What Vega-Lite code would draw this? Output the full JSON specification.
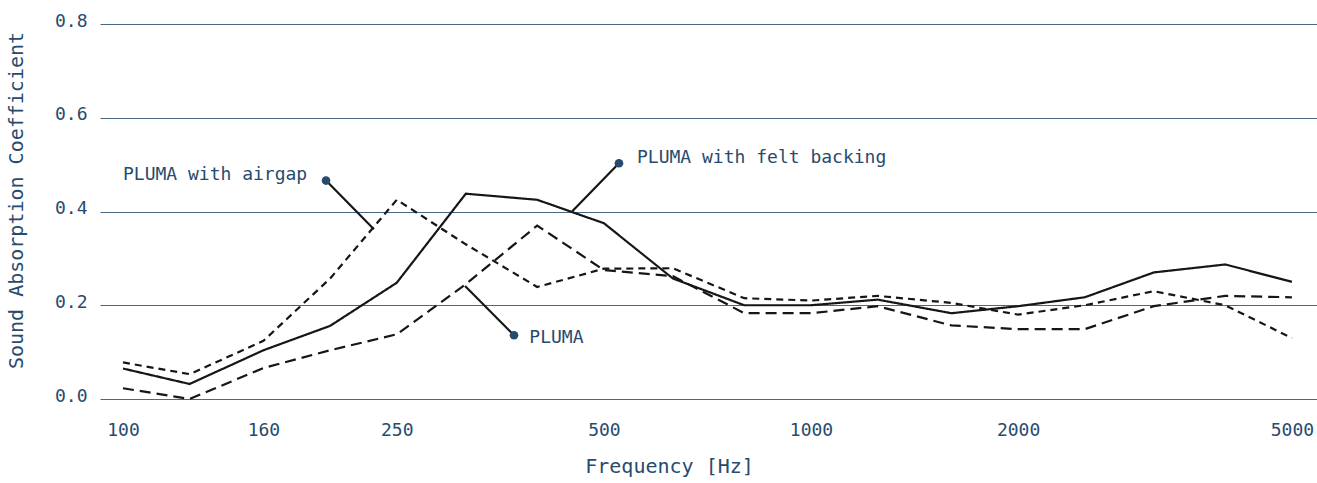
{
  "$schema": "https://vega.github.io/schema/vega-lite/v6.json",
  "width": 1217,
  "height": 375,
  "autosize": {"type": "none"},
  "padding": {"left": 100, "top": 24, "right": 0, "bottom": 84},
  "background": "white",
  "config": {
    "view": {"stroke": null},
    "font": "DejaVu Sans Mono",
    "axis": {"labelFont": "DejaVu Sans Mono", "titleFont": "DejaVu Sans Mono", "labelColor": "#274b6d", "titleColor": "#274b6d", "titleFontWeight": "normal"}
  },
  "datasets": {
    "curves": [
      {"freq": 100, "series": "felt", "value": 0.065},
      {"freq": 125, "series": "felt", "value": 0.032},
      {"freq": 160, "series": "felt", "value": 0.104},
      {"freq": 200, "series": "felt", "value": 0.156},
      {"freq": 250, "series": "felt", "value": 0.248},
      {"freq": 315, "series": "felt", "value": 0.438},
      {"freq": 400, "series": "felt", "value": 0.425},
      {"freq": 500, "series": "felt", "value": 0.375},
      {"freq": 630, "series": "felt", "value": 0.257},
      {"freq": 800, "series": "felt", "value": 0.2},
      {"freq": 1000, "series": "felt", "value": 0.2},
      {"freq": 1250, "series": "felt", "value": 0.212},
      {"freq": 1600, "series": "felt", "value": 0.183},
      {"freq": 2000, "series": "felt", "value": 0.198},
      {"freq": 2500, "series": "felt", "value": 0.217},
      {"freq": 3150, "series": "felt", "value": 0.27},
      {"freq": 4000, "series": "felt", "value": 0.287},
      {"freq": 5000, "series": "felt", "value": 0.25},
      {"freq": 100, "series": "airgap", "value": 0.078},
      {"freq": 125, "series": "airgap", "value": 0.053},
      {"freq": 160, "series": "airgap", "value": 0.124},
      {"freq": 200, "series": "airgap", "value": 0.257},
      {"freq": 250, "series": "airgap", "value": 0.425},
      {"freq": 315, "series": "airgap", "value": 0.33},
      {"freq": 400, "series": "airgap", "value": 0.239},
      {"freq": 500, "series": "airgap", "value": 0.278},
      {"freq": 630, "series": "airgap", "value": 0.279},
      {"freq": 800, "series": "airgap", "value": 0.215},
      {"freq": 1000, "series": "airgap", "value": 0.21},
      {"freq": 1250, "series": "airgap", "value": 0.22},
      {"freq": 1600, "series": "airgap", "value": 0.205},
      {"freq": 2000, "series": "airgap", "value": 0.18},
      {"freq": 2500, "series": "airgap", "value": 0.2},
      {"freq": 3150, "series": "airgap", "value": 0.23},
      {"freq": 4000, "series": "airgap", "value": 0.2},
      {"freq": 5000, "series": "airgap", "value": 0.13},
      {"freq": 100, "series": "pluma", "value": 0.023},
      {"freq": 125, "series": "pluma", "value": 0.0},
      {"freq": 160, "series": "pluma", "value": 0.066},
      {"freq": 200, "series": "pluma", "value": 0.104},
      {"freq": 250, "series": "pluma", "value": 0.138},
      {"freq": 315, "series": "pluma", "value": 0.245},
      {"freq": 400, "series": "pluma", "value": 0.37},
      {"freq": 500, "series": "pluma", "value": 0.275},
      {"freq": 630, "series": "pluma", "value": 0.262},
      {"freq": 800, "series": "pluma", "value": 0.183},
      {"freq": 1000, "series": "pluma", "value": 0.183},
      {"freq": 1250, "series": "pluma", "value": 0.198},
      {"freq": 1600, "series": "pluma", "value": 0.157},
      {"freq": 2000, "series": "pluma", "value": 0.149},
      {"freq": 2500, "series": "pluma", "value": 0.149},
      {"freq": 3150, "series": "pluma", "value": 0.198},
      {"freq": 4000, "series": "pluma", "value": 0.22},
      {"freq": 5000, "series": "pluma", "value": 0.217}
    ],
    "notes": [
      {"label": "PLUMA with airgap", "dotF": 197.3, "dotV": 0.466, "endF": 231.6, "endV": 0.362, "textF": 100, "textV": 0.477},
      {"label": "PLUMA with felt backing", "dotF": 525.9, "dotV": 0.503, "endF": 449.8, "endV": 0.4006, "textF": 558.6, "textV": 0.514},
      {"label": "PLUMA", "dotF": 370.1, "dotV": 0.136, "endF": 314.2, "endV": 0.241, "textF": 389.6, "textV": 0.13}
    ]
  },
  "layer": [
    {
      "data": {"name": "curves"},
      "mark": {"type": "line", "color": "#161616", "strokeWidth": 2.2},
      "encoding": {
        "x": {
          "field": "freq", "type": "quantitative",
          "scale": {"type": "log", "domain": [92.6, 5438], "nice": false},
          "axis": {"values": [100, 160, 250, 500, 1000, 2000, 5000], "format": "d", "grid": false, "domain": false, "ticks": false, "labelPadding": 22, "labelFontSize": 18, "title": "Frequency [Hz]", "titleFontSize": 20, "titleX": 569, "titleY": 67, "titleBaseline": "middle", "titleAlign": "center"}
        },
        "y": {
          "field": "value", "type": "quantitative",
          "scale": {"domain": [0, 0.8], "nice": false},
          "axis": {"values": [0, 0.2, 0.4, 0.6, 0.8], "format": ".1f", "grid": true, "gridColor": "#4a6886", "gridWidth": 1, "gridOpacity": 1, "domain": false, "ticks": false, "labelPadding": 13, "labelOffset": -3, "labelFontSize": 18, "title": "Sound Absorption Coefficient", "titleFontSize": 20, "titleX": -84, "titleY": 176, "titleBaseline": "middle", "titleAlign": "center", "titleAngle": -90}
        },
        "strokeDash": {
          "field": "series", "type": "nominal",
          "scale": {"domain": ["felt", "airgap", "pluma"], "range": [[1, 0], [7, 5], [11, 6]]},
          "legend": null
        },
        "detail": {"field": "series"}
      }
    },
    {
      "data": {"name": "notes"},
      "mark": {"type": "rule", "color": "#161616", "strokeWidth": 2.2},
      "encoding": {
        "x": {"field": "dotF", "type": "quantitative"},
        "y": {"field": "dotV", "type": "quantitative"},
        "x2": {"field": "endF"},
        "y2": {"field": "endV"}
      }
    },
    {
      "data": {"name": "notes"},
      "mark": {"type": "point", "filled": true, "color": "#274b6d", "size": 75, "opacity": 1},
      "encoding": {
        "x": {"field": "dotF", "type": "quantitative"},
        "y": {"field": "dotV", "type": "quantitative"}
      }
    },
    {
      "data": {"name": "notes"},
      "mark": {"type": "text", "align": "left", "baseline": "middle", "font": "DejaVu Sans Mono", "fontSize": 18, "color": "#274b6d"},
      "encoding": {
        "x": {"field": "textF", "type": "quantitative"},
        "y": {"field": "textV", "type": "quantitative"},
        "text": {"field": "label"}
      }
    }
  ]
}
